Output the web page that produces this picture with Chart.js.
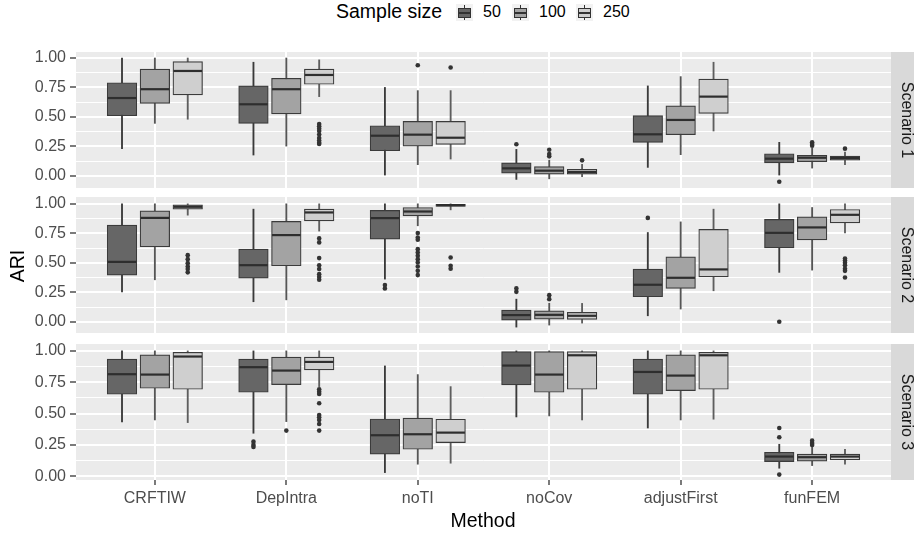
<!DOCTYPE html>
<html lang="en">
<head>
<meta charset="UTF-8">
<title>ARI by method and sample size</title>
<script src="https://cdn.jsdelivr.net/npm/chart.js"></script>
<style>
  body { margin: 0; background: #fff; font-family: "Liberation Sans", Arial, sans-serif; }
  #wrap { position: relative; width: 914px; height: 534px; overflow: hidden; background: #fff; }
  #wrap canvas { position: absolute; left: 0; }
  .txt { position: absolute; white-space: nowrap; line-height: 20px; color: #000; }
  .key { position: absolute; top: 4px; width: 17px; height: 17px; background: #f2f2f2; }
  .key .wh { position: absolute; left: 8px; top: 1px; width: 1px; height: 15px; background: #333; }
  .key .bx { position: absolute; left: 2px; top: 4px; width: 11px; height: 8px; border: 1px solid #333; }
  .key .md { position: absolute; left: 2px; top: 8px; width: 13px; height: 1.5px; background: #333; }
</style>
</head>
<body>
<div id="wrap">
  <canvas id="p1" width="914" height="160" style="top:40px"></canvas>
  <canvas id="p2" width="914" height="160" style="top:185px"></canvas>
  <canvas id="p3" width="914" height="192" style="top:332px"></canvas>

  <div class="txt" style="left:336px;top:1px;font-size:19.5px">Sample size</div>
  <div class="key" style="left:456px"><div class="wh"></div><div class="bx" style="background:#666"></div><div class="md"></div></div>
  <div class="txt" style="left:483px;top:2px;font-size:16px">50</div>
  <div class="key" style="left:512px"><div class="wh"></div><div class="bx" style="background:#a3a3a3"></div><div class="md"></div></div>
  <div class="txt" style="left:539px;top:2px;font-size:16px">100</div>
  <div class="key" style="left:576px"><div class="wh"></div><div class="bx" style="background:#cfcfcf"></div><div class="md"></div></div>
  <div class="txt" style="left:603px;top:2px;font-size:16px">250</div>

  <div class="txt" style="left:-13px;top:256px;width:60px;text-align:center;font-size:19.5px;transform:rotate(-90deg)">ARI</div>
  <div class="txt" style="left:383px;top:510px;width:200px;text-align:center;font-size:19.5px">Method</div>
</div>
<script>
const methods = ['CRFTIW', 'DepIntra', 'noTI', 'noCov', 'adjustFirst', 'funFEM'];
const sampleSizes = ['50', '100', '250'];
const scenarios = ['Scenario 1', 'Scenario 2', 'Scenario 3'];
const yBreaks = [0, 0.125, 0.25, 0.375, 0.5, 0.625, 0.75, 0.875, 1];

// box stats per method: [lower whisker, Q1, median, Q3, upper whisker]
const s1n50  = [[0.23, 0.51, 0.66, 0.79, 1.00], [0.176, 0.445, 0.607, 0.763, 0.964], [0.006, 0.213, 0.34, 0.425, 0.75],
                [-0.031, 0.023, 0.063, 0.11, 0.224], [0.071, 0.284, 0.352, 0.51, 0.763], [0.006, 0.11, 0.145, 0.187, 0.284]];
const s1n100 = [[0.445, 0.615, 0.735, 0.905, 1.00], [0.252, 0.525, 0.735, 0.828, 1.00], [0.094, 0.252, 0.349, 0.462, 0.723],
                [-0.026, 0.014, 0.043, 0.077, 0.133], [0.179, 0.349, 0.474, 0.593, 0.842], [0.065, 0.119, 0.153, 0.173, 0.233]];
const s1n250 = [[0.48, 0.686, 0.89, 0.97, 1.00], [0.672, 0.777, 0.856, 0.905, 0.984], [0.142, 0.267, 0.323, 0.462, 0.723],
                [-0.008, 0.014, 0.031, 0.054, 0.097], [0.38, 0.53, 0.672, 0.82, 0.964], [0.094, 0.133, 0.15, 0.167, 0.2]];

const s2n50  = [[0.254, 0.396, 0.508, 0.82, 1.0], [0.17, 0.37, 0.48, 0.616, 0.955], [0.362, 0.701, 0.879, 0.944, 1.0],
                [-0.045, 0.014, 0.057, 0.099, 0.192], [0.051, 0.212, 0.314, 0.447, 0.757], [0.419, 0.627, 0.754, 0.868, 1.0]];
const s2n100 = [[0.356, 0.636, 0.881, 0.941, 1.0], [0.186, 0.475, 0.735, 0.851, 1.0], [0.814, 0.898, 0.935, 0.969, 1.0],
                [-0.028, 0.023, 0.059, 0.093, 0.158], [0.108, 0.283, 0.373, 0.551, 0.847], [0.438, 0.695, 0.8, 0.89, 0.969]];
const s2n250 = [[0.904, 0.955, 0.975, 0.992, 1.0], [0.769, 0.856, 0.927, 0.955, 1.0], [0.949, 0.978, 0.989, 0.995, 1.0],
                [-0.011, 0.02, 0.051, 0.08, 0.156], [0.263, 0.381, 0.444, 0.783, 0.955], [0.754, 0.839, 0.907, 0.952, 1.0]];

const s3n50  = [[0.433, 0.654, 0.814, 0.934, 1.0], [0.343, 0.67, 0.87, 0.934, 1.0], [0.029, 0.176, 0.327, 0.457, 0.88],
                [0.473, 0.729, 0.883, 0.995, 1.0], [0.385, 0.654, 0.832, 0.934, 1.0], [0.064, 0.117, 0.157, 0.191, 0.255]];
const s3n100 = [[0.449, 0.702, 0.811, 0.968, 1.0], [0.436, 0.731, 0.843, 0.95, 1.0], [0.096, 0.215, 0.335, 0.463, 0.811],
                [0.481, 0.67, 0.811, 0.995, 1.0], [0.449, 0.683, 0.803, 0.968, 1.0], [0.085, 0.12, 0.152, 0.176, 0.242]];
const s3n250 = [[0.428, 0.694, 0.955, 0.989, 1.0], [0.715, 0.848, 0.912, 0.95, 1.0], [0.104, 0.268, 0.348, 0.455, 0.715],
                [0.449, 0.694, 0.965, 0.995, 1.0], [0.455, 0.694, 0.965, 0.989, 1.0], [0.096, 0.13, 0.157, 0.176, 0.215]];

// outlying runs per method
const s1n50out  = [[], [], [], [0.267], [], [-0.051]];
const s1n100out = [[], [], [0.938], [0.221, 0.184, 0.165], [], [0.284, 0.27, 0.255]];
const s1n250out = [[], [0.44, 0.42, 0.40, 0.38, 0.35, 0.32, 0.30, 0.28, 0.27], [0.92], [0.131], [], [0.23]];

const s2n50out  = [[], [], [0.311, 0.283], [0.283, 0.254], [0.881], [0.0]];
const s2n100out = [[], [], [0.752, 0.715, 0.695, 0.616, 0.588, 0.56, 0.531, 0.503, 0.469, 0.432, 0.396], [0.226, 0.192], [], []];
const s2n250out = [[0.565, 0.531, 0.497, 0.469, 0.447, 0.419], [0.707, 0.673, 0.54, 0.48, 0.447, 0.404, 0.38, 0.356],
                   [0.545, 0.475, 0.45], [], [], [0.537, 0.52, 0.5, 0.48, 0.45, 0.432, 0.376]];

const s3n50out  = [[], [0.276, 0.25, 0.234], [], [], [], [0.385, 0.311, 0.013]];
const s3n100out = [[], [0.364], [], [], [], [0.284, 0.265, 0.25]];
const s3n250out = [[], [0.694, 0.675, 0.657, 0.582, 0.489, 0.471, 0.449, 0.417, 0.364], [], [], [], []];

const panelStats = [[s1n50, s1n100, s1n250], [s2n50, s2n100, s2n250], [s3n50, s3n100, s3n250]];
const panelOut = [[s1n50out, s1n100out, s1n250out], [s2n50out, s2n100out, s2n250out], [s3n50out, s3n100out, s3n250out]];
const yLimits = [[-0.104, 1.051], [-0.095, 1.058], [-0.03, 1.055]];

const FONT = '"Liberation Sans", Arial, sans-serif';
const fills = ['#666666', '#a3a3a3', '#cfcfcf'];
const whiskers = ['#3a3a3a', '#555555', '#5e5e5e'];
const dodge = [-0.25, 0, 0.25];
const xMin = 0.4, xMax = 6.6;
const axisW = 76, stripW = 23;
const boxPx = 0.225 * (914 - axisW - stripW) / (xMax - xMin);

const isMajor = v => Math.abs(v * 4 - Math.round(v * 4)) < 1e-6;

// grey panel background and the facet strip on the right
const facetPlugin = {
  id: 'facet',
  beforeDraw(chart) {
    const { ctx, chartArea: a } = chart;
    ctx.save();
    ctx.fillStyle = '#ebebeb';
    ctx.fillRect(a.left, a.top, a.right - a.left, a.bottom - a.top);
    ctx.restore();
  },
  afterDraw(chart, args, opts) {
    const { ctx, chartArea: a } = chart;
    ctx.save();
    ctx.fillStyle = '#d9d9d9';
    ctx.fillRect(a.right, a.top, chart.width - a.right, a.bottom - a.top);
    ctx.translate(a.right + 15, (a.top + a.bottom) / 2);
    ctx.rotate(Math.PI / 2);
    ctx.fillStyle = '#1a1a1a';
    ctx.font = '16px ' + FONT;
    ctx.textAlign = 'center';
    ctx.textBaseline = 'middle';
    ctx.fillText(opts.label, 0, 0);
    ctx.restore();
  }
};

function makePanel(p) {
  const showX = p === 2;
  const datasets = [];
  sampleSizes.forEach((n, s) => {
    const stats = panelStats[p][s];
    const xs = methods.map((m, i) => i + 1 + dodge[s]);
    datasets.push({
      type: 'scatter', label: n + ' outliers', order: 0,
      data: panelOut[p][s].flatMap((vals, i) => vals.map(v => ({ x: xs[i], y: v }))),
      pointRadius: 2.3, backgroundColor: '#333', borderWidth: 0
    });
    datasets.push({
      type: 'scatter', label: n + ' median', order: 1,
      data: stats.map((q, i) => ({ x: xs[i], y: q[2] })),
      pointStyle: 'line', pointRadius: boxPx / 2 - 0.5, borderColor: '#2e2e2e', borderWidth: 2.2
    });
    datasets.push({
      type: 'bar', label: n + ' IQR', order: 2, grouped: false,
      data: stats.map((q, i) => ({ x: xs[i], y: [q[1], q[3]] })),
      barThickness: boxPx, backgroundColor: fills[s], borderColor: '#3b3b3b',
      borderWidth: 1.2, borderSkipped: false
    });
    datasets.push({
      type: 'bar', label: n + ' whiskers', order: 3, grouped: false,
      data: stats.map((q, i) => ({ x: xs[i], y: [q[0], q[4]] })),
      barThickness: 1.2, backgroundColor: whiskers[s], borderWidth: 0
    });
  });

  return new Chart(document.getElementById('p' + (p + 1)), {
    type: 'bar',
    data: { datasets },
    plugins: [facetPlugin],
    options: {
      responsive: false,
      animation: false,
      events: [],
      layout: {
        autoPadding: false,
        padding: { top: 12, bottom: showX ? 0 : 12, left: 0, right: stripW }
      },
      plugins: {
        legend: { display: false },
        tooltip: { enabled: false },
        facet: { label: scenarios[p] }
      },
      scales: {
        x: {
          type: 'linear', min: xMin, max: xMax, offset: false,
          afterBuildTicks: s => { s.ticks = methods.map((m, i) => ({ value: i + 1 })); },
          afterFit: s => { s.height = showX ? 44 : 0; s.paddingLeft = 0; s.paddingRight = 0; },
          ticks: {
            display: showX, autoSkip: false, maxRotation: 0, padding: 4,
            color: '#4d4d4d', font: { family: FONT, size: 16 },
            callback: v => methods[Math.round(v) - 1]
          },
          grid: {
            color: '#ffffff', lineWidth: 2, offset: false,
            drawTicks: showX, tickLength: 5, tickColor: '#333', tickWidth: 1.3
          },
          border: { display: false }
        },
        y: {
          type: 'linear', min: yLimits[p][0], max: yLimits[p][1],
          afterBuildTicks: s => { s.ticks = yBreaks.map(v => ({ value: v })); },
          afterFit: s => { s.width = axisW; s.paddingTop = 0; s.paddingBottom = 0; },
          ticks: {
            autoSkip: false, padding: 4,
            color: '#4d4d4d', font: { family: FONT, size: 16 },
            callback: v => isMajor(v) ? v.toFixed(2) : ''
          },
          grid: {
            color: '#ffffff',
            lineWidth: c => (c.tick && isMajor(c.tick.value)) ? 2 : 1,
            tickLength: 6, tickWidth: 1.3,
            tickColor: c => (c.tick && isMajor(c.tick.value)) ? '#333' : 'rgba(0,0,0,0)'
          },
          border: { display: false }
        }
      }
    }
  });
}

[0, 1, 2].forEach(makePanel);
</script>
</body>
</html>
